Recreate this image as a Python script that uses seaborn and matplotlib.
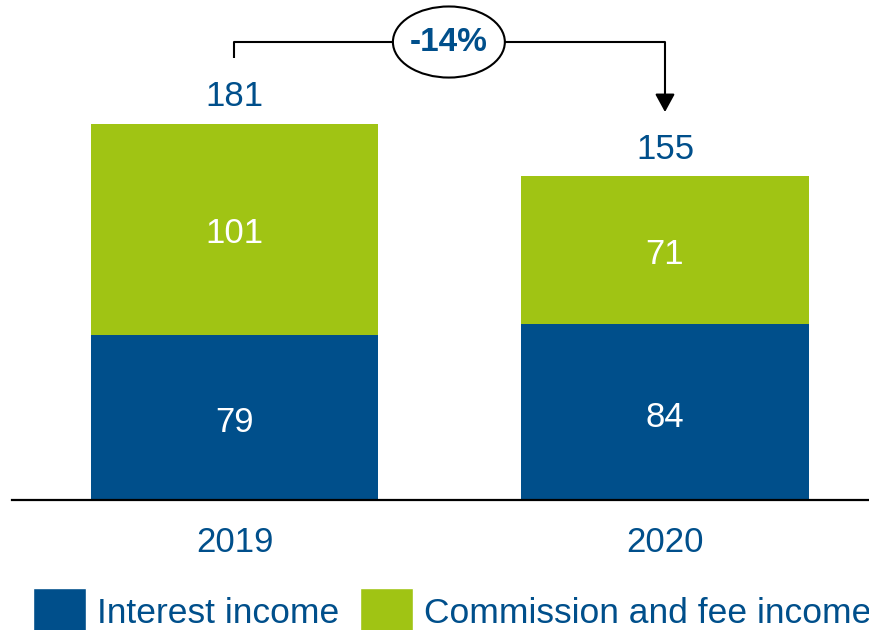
import matplotlib
matplotlib.use('Agg')
import matplotlib.pyplot as plt
from matplotlib.patches import Patch, Ellipse
import seaborn as sns

# data
years = ['2019', '2020']
interest = [79, 84]
commission = [101, 71]
total_labels = [181, 155]
legend_labels = ['Interest income', 'Commission and fee income']

BLUE = '#004F8B'
GREEN = '#A0C414'

sns.set_style('white')
plt.rcParams['font.family'] = ['Liberation Sans', 'DejaVu Sans']

fig = plt.figure(figsize=(8.7, 6.3), dpi=100)
ax = fig.add_axes([12/870, 130/630, 858/870, 500/630])

stacked = [a + b for a, b in zip(interest, commission)]

#Green goes underneath with full height, blue on top of it
sns.barplot(x=years, y=stacked, color=GREEN, saturation=1, width=0.667,
            linewidth=0, errorbar=None, ax=ax)
sns.barplot(x=years, y=interest, color=BLUE, saturation=1, width=0.667,
            linewidth=0, errorbar=None, ax=ax)

ax.set_xlim(-0.5168, 1.4762)
ax.set_ylim(0, 239.2)
ax.set_xlabel('')
ax.set_ylabel('')
ax.set_yticks([])
for s in ['left', 'right', 'top']:
    ax.spines[s].set_visible(False)
ax.spines['bottom'].set_color('black')
ax.spines['bottom'].set_linewidth(1.6)
ax.tick_params(axis='x', length=0, pad=18.5, labelsize=25, labelcolor=BLUE)

#labels inside the segments
for i in range(len(years)):
    ax.annotate(str(interest[i]), (i, interest[i] / 2), xytext=(0, -3.5),
                textcoords='offset points', ha='center', va='center',
                color='white', fontsize=25)
    ax.annotate(str(commission[i]), (i, interest[i] + commission[i] / 2),
                xytext=(0, -3), textcoords='offset points', ha='center',
                va='center', color='white', fontsize=25)
    ax.annotate(str(total_labels[i]), (i, stacked[i]), xytext=(0, 12.5),
                textcoords='offset points', ha='center', va='baseline',
                color=BLUE, fontsize=25)

#bracket with change
top = 219.1
left_bottom = stacked[0] + 31.5
tip = stacked[1] + 30.6
ax.plot([0, 0, 1], [left_bottom, top, top], color='black', lw=1.5,
        solid_capstyle='butt', clip_on=False, zorder=2)
ax.annotate('', xy=(1, tip), xytext=(1, top),
            arrowprops=dict(arrowstyle='-|>,head_length=0.55,head_width=0.3',
                            mutation_scale=20, color='black', lw=1.5,
                            shrinkA=0, shrinkB=0),
            annotation_clip=False)
ax.add_patch(Ellipse((0.498, top), 0.26, 34, facecolor='white',
                     edgecolor='black', lw=1.5, zorder=3, clip_on=False))
change = round((total_labels[1] - total_labels[0]) / total_labels[0] * 100)
ax.text(0.498, top, f'{change}%', ha='center', va='center', color=BLUE,
        fontsize=24, fontweight='bold', zorder=4)

handles = [Patch(facecolor=BLUE), Patch(facecolor=GREEN)]
fig.legend(handles, legend_labels, loc='center left',
           bbox_to_anchor=(33/870, 1 - 612/630), ncol=2, frameon=False,
           fontsize=25.5, labelcolor=BLUE, borderpad=0, borderaxespad=0,
           handlelength=1.5, handleheight=1.75, handletextpad=0.3,
           columnspacing=0.6)

fig.savefig('out.png', dpi=100)
